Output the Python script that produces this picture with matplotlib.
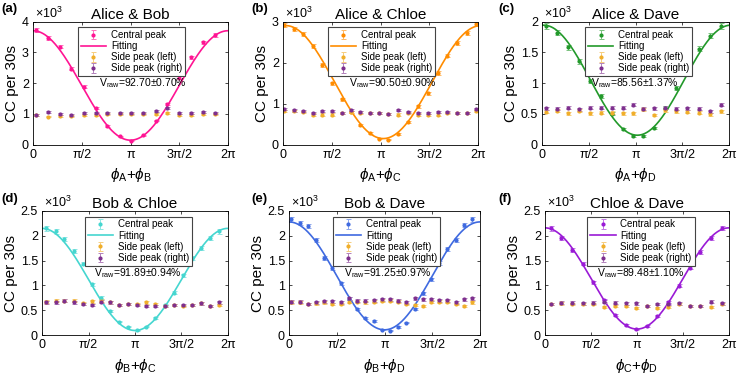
import numpy as np
import matplotlib

matplotlib.use("Agg")
import matplotlib.pyplot as plt
from matplotlib.colors import to_rgb

plt.rcParams["font.family"] = ["Liberation Sans", "DejaVu Sans"]
plt.rcParams["mathtext.fontset"] = "custom"
plt.rcParams["mathtext.rm"] = "Liberation Sans"
plt.rcParams["mathtext.it"] = "Liberation Sans:italic"
plt.rcParams["mathtext.fallback"] = "stixsans"

# values in units of 10^3 coincidence counts per 30 s
titles = ["Alice & Bob", "Alice & Chloe", "Alice & Dave",
          "Bob & Chloe", "Bob & Dave", "Chloe & Dave"]
panel_tags = ["(a)", "(b)", "(c)", "(d)", "(e)", "(f)"]
xlabels = [r"$\phi_{\rm A}$+$\phi_{\rm B}$", r"$\phi_{\rm A}$+$\phi_{\rm C}$",
           r"$\phi_{\rm A}$+$\phi_{\rm D}$", r"$\phi_{\rm B}$+$\phi_{\rm C}$",
           r"$\phi_{\rm B}$+$\phi_{\rm D}$", r"$\phi_{\rm C}$+$\phi_{\rm D}$"]
visibility = [92.70, 90.50, 85.56, 91.89, 91.25, 89.48]
visibility_err = [0.70, 0.90, 1.37, 0.94, 0.97, 1.10]
fit_peak = [3.70, 2.90, 1.94, 2.15, 2.28, 2.16]
fit_phase = [0.0, 0.09, 0.06, 0.0, 0.0, 0.0]
y_max = [4, 3, 2, 2.5, 2.5, 2.5]

phase_a = [0.09, 0.47, 0.86, 1.24, 1.63, 2.02, 2.40, 2.79, 3.17, 3.56, 3.95, 4.33,
           4.72, 5.10, 5.49, 5.88]
central_a = [3.72, 3.46, 3.18, 2.47, 1.88, 1.18, 0.61, 0.27, 0.13, 0.30, 0.78, 1.32,
             2.17, 2.84, 3.32, 3.57]
left_a = [0.96, 0.91, 0.92, 0.92, 0.96, 0.97, 1.00, 1.00, 1.00, 0.98, 1.00, 1.03,
          0.96, 0.96, 0.99, 1.00]
right_a = [0.97, 1.05, 1.00, 0.97, 1.02, 1.04, 1.02, 1.02, 1.04, 1.02, 1.09, 1.19,
           1.04, 1.03, 1.06, 1.02]

phase_b = [0.03, 0.34, 0.65, 0.96, 1.27, 1.58, 1.89, 2.19, 2.48, 2.80, 3.10, 3.38,
           3.72, 4.04, 4.34, 4.66, 4.98, 5.29, 5.60, 5.92, 6.23]
central_b = [2.91, 2.82, 2.70, 2.41, 1.94, 1.49, 1.10, 0.80, 0.47, 0.28, 0.14, 0.12,
             0.26, 0.54, 0.93, 1.25, 1.74, 2.17, 2.48, 2.72, 2.94]
left_b = [0.82, 0.82, 0.80, 0.73, 0.73, 0.73, 0.77, 0.80, 0.78, 0.76, 0.76, 0.74,
          0.73, 0.76, 0.73, 0.72, 0.73, 0.76, 0.76, 0.76, 0.82]
right_b = [0.87, 0.83, 0.82, 0.77, 0.82, 0.82, 0.77, 0.84, 0.79, 0.77, 0.77, 0.75,
           0.84, 0.79, 0.77, 0.77, 0.79, 0.80, 0.77, 0.77, 0.86]

phase_c = [0.15, 0.52, 0.88, 1.24, 1.61, 1.97, 2.34, 2.71, 3.07, 3.40, 3.77, 4.14,
           4.51, 4.88, 5.26, 5.64, 6.02]
central_c = [1.93, 1.82, 1.58, 1.35, 1.03, 0.79, 0.50, 0.26, 0.14, 0.14, 0.27, 0.60,
             0.92, 1.16, 1.56, 1.77, 1.93]
left_c = [0.53, 0.55, 0.51, 0.55, 0.51, 0.52, 0.52, 0.51, 0.51, 0.57, 0.48, 0.56,
          0.54, 0.53, 0.52, 0.49, 0.54]
right_c = [0.59, 0.58, 0.60, 0.57, 0.60, 0.60, 0.60, 0.60, 0.65, 0.58, 0.59, 0.60,
           0.58, 0.59, 0.58, 0.54, 0.65]

phase_d = [0.15, 0.46, 0.76, 1.07, 1.38, 1.69, 1.99, 2.30, 2.61, 2.91, 3.22, 3.53,
           3.83, 4.14, 4.45, 4.76, 5.06, 5.37, 5.68, 5.98]
central_d = [2.15, 2.09, 1.93, 1.70, 1.44, 1.02, 0.75, 0.48, 0.27, 0.17, 0.10, 0.17,
             0.34, 0.60, 0.85, 1.20, 1.55, 1.75, 1.96, 2.09]
left_d = [0.67, 0.69, 0.69, 0.69, 0.64, 0.68, 0.69, 0.66, 0.60, 0.62, 0.62, 0.66,
          0.62, 0.59, 0.61, 0.59, 0.60, 0.64, 0.59, 0.61]
right_d = [0.66, 0.66, 0.69, 0.66, 0.62, 0.61, 0.67, 0.66, 0.60, 0.62, 0.61, 0.59,
           0.59, 0.59, 0.61, 0.60, 0.60, 0.64, 0.59, 0.66]

phase_e = [0.08, 0.35, 0.62, 0.89, 1.16, 1.43, 1.70, 1.97, 2.24, 2.51, 2.78, 3.05,
           3.32, 3.59, 3.86, 4.13, 4.40, 4.67, 4.94, 5.21, 5.48, 5.75, 6.02]
central_e = [2.33, 2.26, 2.20, 1.91, 1.55, 1.35, 1.04, 0.73, 0.52, 0.35, 0.28, 0.11,
             0.09, 0.16, 0.25, 0.52, 0.84, 1.12, 1.45, 1.74, 1.91, 2.22, 2.33]
left_e = [0.66, 0.66, 0.62, 0.64, 0.66, 0.62, 0.62, 0.67, 0.67, 0.66, 0.67, 0.69,
          0.69, 0.67, 0.62, 0.60, 0.59, 0.67, 0.67, 0.67, 0.62, 0.59, 0.66]
right_e = [0.67, 0.67, 0.62, 0.66, 0.68, 0.68, 0.66, 0.74, 0.69, 0.69, 0.70, 0.72,
           0.72, 0.69, 0.66, 0.74, 0.72, 0.72, 0.70, 0.70, 0.66, 0.72, 0.74]

phase_f = [0.19, 0.56, 0.92, 1.29, 1.65, 2.02, 2.38, 2.75, 3.11, 3.48, 3.84, 4.21,
           4.57, 4.94, 5.30, 5.67, 6.03]
central_f = [2.15, 1.96, 1.72, 1.44, 1.06, 0.70, 0.40, 0.20, 0.12, 0.18, 0.38, 0.66,
             0.99, 1.36, 1.68, 1.96, 2.16]
left_f = [0.62, 0.64, 0.63, 0.62, 0.62, 0.57, 0.59, 0.59, 0.54, 0.59, 0.54, 0.57,
          0.62, 0.59, 0.59, 0.57, 0.62]
right_f = [0.63, 0.65, 0.65, 0.64, 0.65, 0.67, 0.65, 0.64, 0.64, 0.59, 0.63, 0.63,
           0.64, 0.59, 0.59, 0.67, 0.64]

phases = [phase_a, phase_b, phase_c, phase_d, phase_e, phase_f]
centrals = [central_a, central_b, central_c, central_d, central_e, central_f]
lefts = [left_a, left_b, left_c, left_d, left_e, left_f]
rights = [right_a, right_b, right_c, right_d, right_e, right_f]

main_colors = ["#FF1493", "#FF8C00", "#22992A", "#45D6D0", "#3F6AE0", "#9A1AD6"]
LEFT_COLOR = "#F0AE2A"
RIGHT_COLOR = "#7E2F8E"

# axes boxes in pixels: left, width, top, bottom
boxes = [(33, 195, 21.5, 144.5), (283, 195, 21.5, 144.5), (542, 187, 21.5, 144.5),
         (42, 186, 211, 335), (289, 191, 211, 335), (545, 184, 211, 335)]
tag_pos = [(1, 9), (251, 9), (498, 9), (1, 199), (251, 199), (498, 199)]
vtext_x = [0.34, 0.34, 0.26, 0.28, 0.29, 0.28]

W, H = 747, 380
fig = plt.figure(figsize=(W / 100, H / 100), dpi=100)


def poisson(vals):
    # shot-noise error bars, counts in units of 10^3
    v = np.asarray(vals)
    return np.sqrt(v * 1000) / 1000


def lighter(color, amount=0.4):
    r, g, b = to_rgb(color)
    return (r + (1 - r) * amount, g + (1 - g) * amount, b + (1 - b) * amount)


def bars(ax, x, y, color, label):
    return ax.errorbar(x, y, yerr=poisson(y), fmt=".", color=color,
                       ecolor=lighter(color), markersize=4, capsize=1.8,
                       elinewidth=0.7, capthick=0.7, label=label)


for i in range(6):
    L, w, top, bot = boxes[i]
    ax = fig.add_axes([L / W, 1 - bot / H, w / W, (bot - top) / H])
    c = main_colors[i]

    h_c = bars(ax, phases[i], centrals[i], c, "Central peak")
    xx = np.linspace(0, 2 * np.pi, 300)
    v = visibility[i] / 100
    lo = fit_peak[i] * (1 - v) / (1 + v)
    h_f, = ax.plot(xx, (fit_peak[i] + lo) / 2
                   + (fit_peak[i] - lo) / 2 * np.cos(xx - fit_phase[i]),
                   color=c, lw=1.2, label="Fitting")
    h_l = bars(ax, phases[i], lefts[i], LEFT_COLOR, "Side peak (left)")
    h_r = bars(ax, phases[i], rights[i], RIGHT_COLOR, "Side peak (right)")

    ax.set_xlim(0, 2 * np.pi)
    ax.set_ylim(0, y_max[i])
    ax.set_xticks([0, np.pi / 2, np.pi, 3 * np.pi / 2, 2 * np.pi])
    ax.set_xticklabels(["0", "π/2", "π", "3π/2", "2π"])
    yt = np.arange(0, y_max[i] + 0.01, 1 if y_max[i] >= 3 else 0.5)
    ax.set_yticks(yt)
    ax.set_yticklabels(["%g" % t for t in yt])
    ax.tick_params(direction="in", length=2.5, width=0.5, labelsize=9,
                   top=True, right=True, pad=3)
    for s in ax.spines.values():
        s.set_linewidth(0.6)

    ax.set_xlabel(xlabels[i], fontsize=11, labelpad=4)
    ax.set_ylabel("CC per 30s", fontsize=11, labelpad=2)
    ax.set_title(titles[i], fontsize=11, pad=2)
    ax.text(0.01, 1.005, r"$\times10^3$", transform=ax.transAxes,
            fontsize=9, va="bottom", ha="left")
    ax.text(vtext_x[i], 0.5,
            r"V$_{\rm raw}$=%.2f±%.2f%%" % (visibility[i], visibility_err[i]),
            transform=ax.transAxes, fontsize=7.5, va="center", ha="left")

    leg = ax.legend([h_c, h_f, h_l, h_r],
                    ["Central peak", "Fitting", "Side peak (left)", "Side peak (right)"],
                    loc="upper left", bbox_to_anchor=(0.23, 0.955), fontsize=7,
                    frameon=True, fancybox=False, edgecolor="#444444",
                    framealpha=1, borderpad=0.3, labelspacing=0.12,
                    handlelength=2.6, handletextpad=0.5, borderaxespad=0)
    leg.get_frame().set_linewidth(0.8)

    fig.text(tag_pos[i][0] / W, 1 - tag_pos[i][1] / H, panel_tags[i],
             fontsize=9.5, fontweight="bold", va="center", ha="left")

fig.savefig("out.png", dpi=100)
